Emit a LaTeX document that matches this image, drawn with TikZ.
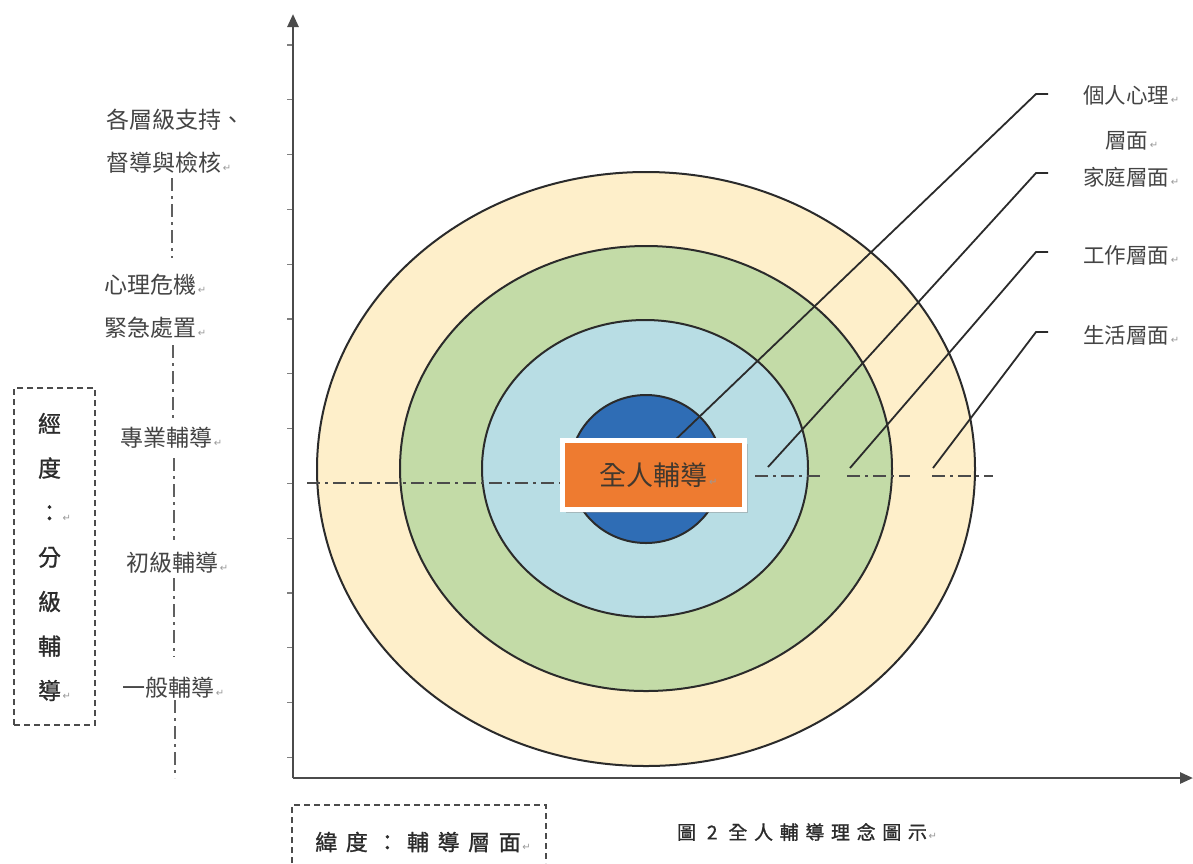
\documentclass[tikz,border=0pt]{standalone}
\usepackage{fontspec}
\setmainfont{Noto Sans CJK TC}
\newfontfamily\dejavu{DejaVu Sans}
\usetikzlibrary{arrows.meta,shadows}
\definecolor{cream}{HTML}{FEEFCA}
\definecolor{leaf}{HTML}{C3DBA7}
\definecolor{aqua}{HTML}{B8DDE4}
\definecolor{deepblue}{HTML}{2F6DB5}
\definecolor{boxorange}{HTML}{EE7B30}
\definecolor{ink}{HTML}{2B2B2B}
\definecolor{labelgray}{HTML}{444444}
\newcommand\parmark{\makebox[0pt][l]{\dejavu\fontsize{10}{10}\selectfont\color{gray!80}\,↵}}
\begin{document}
\begin{tikzpicture}[x=1pt,y=-1pt,
  ring/.style={draw=ink, line width=2pt},
  dashdot/.style={draw=ink!85, line width=2.2pt, dash pattern=on 13pt off 5pt on 3pt off 5pt},
  vdashdot/.style={draw=ink!75, line width=2pt, dash pattern=on 13pt off 5pt on 3pt off 5pt},
  leader/.style={draw=ink, line width=1.8pt},
  axis/.style={draw=ink!85, line width=2.6pt, -{Triangle[length=13pt,width=11pt]}},
  tick/.style={draw=ink!60, line width=1.2pt},
  lbl/.style={font=\fontsize{23}{26}\selectfont, text=labelgray, inner sep=0pt, anchor=west},
  rlbl/.style={font=\fontsize{21.5}{24}\selectfont, text=labelgray, inner sep=0pt, anchor=west},
  darktext/.style={inner sep=0pt, text=ink},
  dashbox/.style={draw=ink!85, line width=2pt, dash pattern=on 6pt off 4pt},
  hubbox/.style={fill=boxorange, draw=white, line width=5pt, minimum width=182pt, minimum height=69pt,
    inner sep=0pt, font=\fontsize{27}{30}\selectfont, text=ink!85!brown,
    drop shadow={shadow xshift=3pt, shadow yshift=-3pt, fill=black!45, opacity=0.45}}
]
\useasboundingbox (0,0) rectangle (1193,863);
\fill[white] (0,0) rectangle (1193,863);

% rings
\draw[ring, fill=cream] (646,469) ellipse [x radius=329pt, y radius=297pt];
\draw[ring, fill=leaf] (646,468.5) ellipse [x radius=246pt, y radius=222.5pt];
\draw[ring, fill=aqua] (645,468.5) ellipse [x radius=163pt, y radius=148.5pt];
\draw[ring, fill=deepblue] (646,469) ellipse [x radius=76pt, y radius=74pt];

% horizontal dash-dot
\draw[dashdot] (307,483) -- (560,483);
\draw[dashdot] (755,476) -- (820,476);
\draw[dashdot] (847,476) -- (910,476);
\draw[dashdot] (932,476) -- (993,476);

% leader coordinates
\coordinate (s1) at (672,443);
\coordinate (b1) at (1036,94);
\coordinate (e1) at (1048,94);
\coordinate (s2) at (768,467);
\coordinate (b2) at (1036,173);
\coordinate (e2) at (1048,173);
\coordinate (s3) at (850,468);
\coordinate (b3) at (1036,252);
\coordinate (e3) at (1048,252);
\coordinate (s4) at (933,468);
\coordinate (b4) at (1036,332);
\coordinate (e4) at (1048,332);
\draw[leader] (s1) -- (b1) -- (e1);
\draw[leader] (s2) -- (b2) -- (e2);
\draw[leader] (s3) -- (b3) -- (e3);
\draw[leader] (s4) -- (b4) -- (e4);

% center box
\node[hubbox] (hub) at (653.5,475) {全人輔導\parmark};

% right labels
\node[rlbl] (l1) at (1083,95) {個人心理\parmark};
\node[rlbl] (l1b) at (1105,141) {層面\parmark};
\node[rlbl] (l2) at (1083,177) {家庭層面\parmark};
\node[rlbl] (l3) at (1083,255) {工作層面\parmark};
\node[rlbl] (l4) at (1083,335) {生活層面\parmark};

% axes
\coordinate (origin) at (293,778);
\coordinate (ytop) at (293,14);
\coordinate (xend) at (1193,778);
\foreach \k in {0,...,13} {\draw[tick] (287,45+54.8*\k) -- (293,45+54.8*\k);}
\draw[axis] (origin) -- (ytop);
\draw[axis] (origin) -- (xend);

% left vertical dash-dot
\draw[vdashdot] (172,178) -- (172,258);
\draw[vdashdot] (173,345) -- (173,418);
\draw[vdashdot] (174,458) -- (174,540);
\draw[vdashdot] (174,578) -- (174,657);
\draw[vdashdot] (175,700) -- (175,778);

% left labels
\node[lbl] (a1) at (106,120) {各層級支持、};
\node[lbl] (a2) at (106,163) {督導與檢核\parmark};
\node[lbl] (b1t) at (104,285) {心理危機\parmark};
\node[lbl] (b2t) at (104,328) {緊急處置\parmark};
\node[lbl] (c1) at (120,438) {專業輔導\parmark};
\node[lbl] (c2) at (126,563) {初級輔導\parmark};
\node[lbl] (c3) at (122,688) {一般輔導\parmark};

% left dashed box
\node[dashbox, minimum width=81pt, minimum height=337pt, inner sep=0pt] (lonbox) at (54.5,556.5) {};
\node[darktext, align=center, font=\fontsize{23}{44.5}\selectfont\addfontfeatures{FakeBold=1}] (lontext) at (49.5,557)
  {經\\度\\：\parmark\\分\\級\\輔\\導\parmark};

% bottom dashed box
\coordinate (bb1) at (292,863);
\coordinate (bb2) at (292,805);
\coordinate (bb3) at (546,805);
\coordinate (bb4) at (546,863);
\draw[dashbox] (bb1) -- (bb2) -- (bb3) -- (bb4);
\node[darktext, font=\fontsize{22}{24}\selectfont\addfontfeatures{LetterSpace=39,FakeBold=1}] (lat) at (418,842) {緯度：輔導層面\parmark};

% caption
\node[darktext, font=\fontsize{19}{22}\selectfont\addfontfeatures{LetterSpace=35,FakeBold=1}] (cap) at (802,832) {圖 2 全人輔導理念圖示\parmark};
\end{tikzpicture}
\end{document}
